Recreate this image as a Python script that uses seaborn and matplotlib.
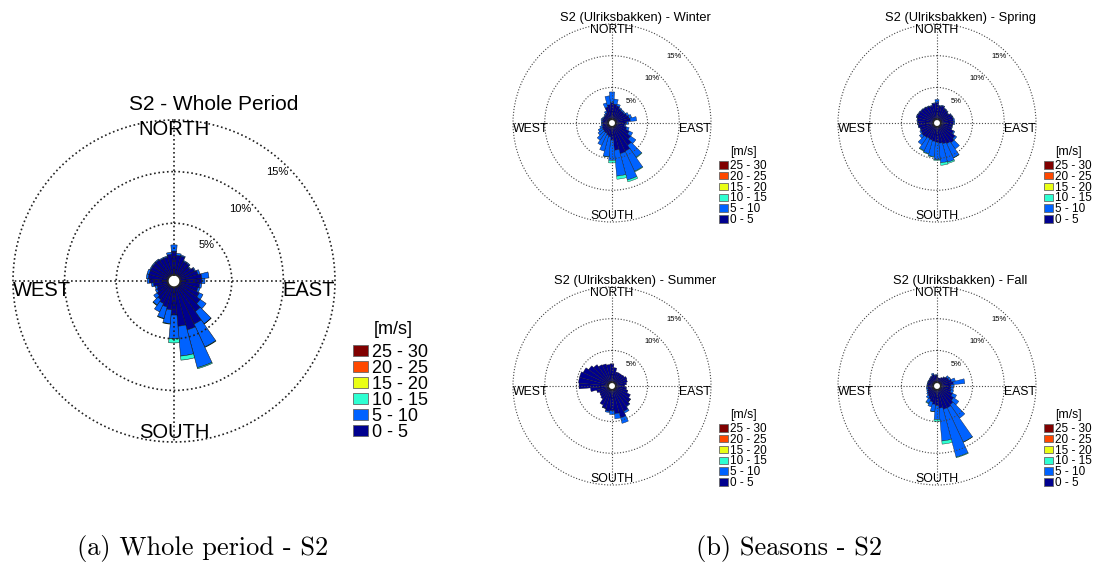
import numpy as np
import matplotlib
matplotlib.use("Agg")
import matplotlib.pyplot as plt
import seaborn as sns
from matplotlib.patches import Patch

# ---------------- data ----------------
directions = np.arange(0, 360, 10)          # sector centres (deg, compass)
speed_bins = ["0 - 5", "5 - 10", "10 - 15", "15 - 20", "20 - 25", "25 - 30"]
bin_colors = ["#00008F", "#0062FF", "#2EFFD2", "#EAFF15", "#FF4800", "#800000"]

# frequencies in % per 10-degree sector, per speed band
whole_0_5 = [2.3, 1.9, 1.9, 1.5, 1.5, 1.3, 1.6, 1.8, 2.1, 2.1, 1.9, 1.8, 2.1, 2.5, 3.0, 4.0, 4.3, 3.8,
             2.7, 2.2, 2.0, 1.8, 1.6, 1.4, 1.2, 1.1, 1.4, 1.8, 1.9, 1.9, 1.9, 1.9, 1.9, 1.8, 1.8, 2.0]
whole_5_10 = [0.6, 0.2, 0.1, 0.1, 0.1, 0.1, 0.1, 0.2, 0.7, 0.3, 0.2, 0.2, 0.4, 0.7, 1.47, 2.45, 3.8, 2.9,
              2.3, 1.35, 1.15, 0.9, 0.65, 0.4, 0.2, 0.2, 0.2, 0.2, 0.2, 0.2, 0.1, 0.1, 0.1, 0.1, 0.1, 0.2]
whole_10_15 = [0, 0, 0, 0, 0, 0, 0, 0, 0, 0, 0, 0, 0, 0, 0.03, 0.05, 0.1, 0.4,
               0.4, 0.05, 0.05, 0, 0.05, 0, 0, 0, 0, 0, 0, 0, 0, 0, 0, 0, 0, 0]

winter_0_5 = [2.6, 2.4, 2.2, 1.9, 1.8, 1.8, 2.0, 2.2, 2.3, 1.7, 1.4, 1.8, 2.4, 3.0, 3.7, 4.3, 4.4, 3.7,
              2.1, 1.6, 1.4, 1.2, 1.2, 1.1, 1.1, 1.0, 0.9, 0.9, 0.9, 1.0, 0.9, 0.9, 1.0, 1.2, 2.0, 2.3]
winter_5_10 = [1.7, 0.8, 0.3, 0.2, 0.2, 0.2, 0.3, 0.4, 1.0, 0.3, 0.2, 0.4, 0.6, 1.0, 2.3, 3.5, 4.3, 4.1,
               3.2, 3.15, 2.6, 2.1, 1.5, 1.0, 0.7, 0.4, 0.2, 0.2, 0.2, 0.2, 0.2, 0.1, 0.2, 0.3, 0.7, 1.4]
winter_10_15 = [0, 0, 0, 0, 0, 0, 0, 0, 0, 0, 0, 0, 0, 0, 0.1, 0.1, 0.3, 0.5,
                0.4, 0.05, 0, 0, 0, 0, 0, 0, 0, 0, 0, 0, 0, 0, 0, 0, 0, 0]

spring_0_5 = [2.6, 2.1, 2.2, 1.9, 1.8, 1.6, 1.9, 2.0, 2.0, 2.0, 1.8, 1.8, 2.3, 2.9, 3.2, 3.0, 2.8, 2.6,
              2.4, 2.3, 2.2, 2.1, 2.2, 2.3, 2.2, 2.1, 2.3, 2.4, 2.5, 2.7, 2.6, 2.5, 2.4, 2.3, 2.2, 2.5]
spring_5_10 = [0.5, 0.1, 0.1, 0.1, 0.1, 0.1, 0.1, 0.1, 0.2, 0.2, 0.1, 0.1, 0.2, 0.3, 1.2, 2.45, 3.0, 3.1,
               2.8, 2.4, 2.2, 2.1, 1.4, 0.5, 0.2, 0.1, 0.1, 0.1, 0.1, 0.1, 0.1, 0.1, 0.1, 0.1, 0.1, 0.1]
spring_10_15 = [0, 0, 0, 0, 0, 0, 0, 0, 0, 0, 0, 0, 0, 0, 0, 0.05, 0.2, 0.4,
                0.1, 0.1, 0.1, 0.1, 0, 0, 0, 0, 0, 0, 0, 0, 0, 0, 0, 0, 0, 0]

summer_0_5 = [2.9, 2.3, 1.7, 1.7, 1.7, 1.8, 2.0, 1.9, 1.7, 1.4, 1.7, 2.0, 2.6, 2.95, 3.3, 3.8, 4.6, 3.8,
              3.3, 3.4, 3.05, 2.7, 1.9, 1.7, 1.6, 1.9, 2.8, 4.6, 4.7, 4.7, 4.4, 3.9, 3.5, 3.1, 3.0, 2.8]
summer_5_10 = [0, 0, 0, 0, 0, 0, 0, 0, 0, 0, 0, 0, 0, 0.05, 0.1, 0.3, 0.9, 0.8,
               0.6, 0.2, 0.05, 0, 0, 0, 0, 0, 0, 0, 0, 0, 0, 0, 0, 0, 0, 0]
summer_10_15 = [0] * 36

fall_0_5 = [1.1, 0.7, 0.7, 0.9, 1.1, 1.4, 1.5, 1.8, 2.0, 1.6, 1.6, 1.7, 2.1, 2.6, 3.0, 3.2, 3.2, 2.9,
            2.5, 2.3, 2.0, 1.7, 1.4, 1.2, 1.0, 0.9, 0.9, 0.9, 0.9, 0.9, 0.9, 0.9, 1.0, 1.1, 1.3, 1.1]
fall_5_10 = [0.1, 0, 0, 0, 0.1, 0.3, 0.3, 0.6, 1.8, 0.5, 0.4, 0.4, 0.7, 1.0, 2.6, 5.95, 7.8, 5.2,
             2.2, 1.15, 0.8, 0.7, 0.4, 0.2, 0.2, 0.2, 0.2, 0.1, 0.1, 0.1, 0.1, 0.1, 0.1, 0.1, 0.2, 0.1]
fall_10_15 = [0, 0, 0, 0, 0, 0, 0, 0, 0, 0, 0, 0, 0, 0, 0, 0.05, 0.1, 0.5,
              0.3, 0.05, 0, 0.1, 0, 0, 0, 0, 0, 0, 0, 0, 0, 0, 0, 0, 0, 0]

ring_values = [5, 10, 15]
ring_labels = ["5%", "10%", "15%"]

# ---------------- style ----------------
sns.set_theme(style="white")
plt.rcParams["font.family"] = ["Liberation Sans", "DejaVu Sans"]
plt.rcParams["text.color"] = "black"
palette = sns.color_palette(bin_colors)

W, H = 1101, 575
fig = plt.figure(figsize=(W / 100, H / 100), dpi=100)


def polar_axes(cx, cy, r):
    return fig.add_axes([(cx - r) / W, 1 - (cy + r) / H, 2 * r / W, 2 * r / H],
                        projection="polar")


def draw_rose(ax, bands, big):
    theta = np.deg2rad(directions)
    width = np.deg2rad(10)
    bottom = np.zeros(len(directions))
    for vals, col in zip(bands, palette):
        vals = np.asarray(vals, float)
        m = vals > 0
        ax.bar(theta[m], vals[m], width=width, bottom=bottom[m], color=col,
               edgecolor="#111111", linewidth=0.35 if big else 0.25, align="center")
        bottom += vals
    ax.set_theta_zero_location("N")
    ax.set_theta_direction(-1)
    ax.set_ylim(0, 15)
    ax.set_rorigin(-0.6)
    ax.set_yticks(ring_values)
    ax.set_yticklabels([])
    ax.set_xticks(np.deg2rad([0, 90, 180, 270]))
    ax.set_xticklabels([])
    ax.grid(True, linestyle=(0, (1, 1.6)), color="#222222" if big else "#444444",
            linewidth=1.2 if big else 0.8)
    ax.set_axisbelow(False)
    for gl in ax.yaxis.get_gridlines() + ax.xaxis.get_gridlines():
        gl.set_clip_on(False)
    for sp in ax.spines.values():
        sp.set_visible(False)
    ax.tick_params(length=0)
    fs_card = 14.5 if big else 8.8
    fs_pct = 8 if big else 5.5
    ax.text(0, 15, "NORTH", ha="center", va="top", fontsize=fs_card)
    ax.text(np.pi, 15, "SOUTH", ha="center", va="bottom", fontsize=fs_card)
    ax.text(np.deg2rad(270), 15, "WEST", ha="left", va="top", fontsize=fs_card)
    ax.text(np.deg2rad(90), 15, "EAST", ha="right", va="top", fontsize=fs_card)
    for rv, lab in zip(ring_values, ring_labels):
        ax.text(np.deg2rad(45), rv, lab, ha="right", va="top", fontsize=fs_pct)


def add_legend(x, y, big):
    handles = [Patch(facecolor=palette[i], edgecolor="#666666", linewidth=0.6)
               for i in range(len(speed_bins) - 1, -1, -1)]
    labels = speed_bins[::-1]
    if big:
        kw = dict(fontsize=13, handlelength=0.83, handleheight=0.55,
                  handletextpad=0.22, labelspacing=-0.06)
    else:
        kw = dict(fontsize=8.5, handlelength=0.76, handleheight=0.6,
                  handletextpad=0.17, labelspacing=-0.1)
    fig.legend(handles, labels, loc="upper left", bbox_to_anchor=(x / W, 1 - y / H),
               frameon=False, borderpad=0, borderaxespad=0, labelcolor="black", **kw)


# whole period
ax_main = polar_axes(174, 281, 161)
draw_rose(ax_main, [whole_0_5, whole_5_10, whole_10_15], True)
fig.text(214 / W, 1 - 104 / H, "S2 - Whole Period", ha="center", va="center", fontsize=15)
fig.text(393 / W, 1 - 330 / H, "[m/s]", ha="center", va="center", fontsize=13)
add_legend(353, 344, True)

seasons = [
    ("Winter", 612, 123, [winter_0_5, winter_5_10, winter_10_15]),
    ("Spring", 937, 123, [spring_0_5, spring_5_10, spring_10_15]),
    ("Summer", 612, 386, [summer_0_5, summer_5_10, summer_10_15]),
    ("Fall", 937, 386, [fall_0_5, fall_5_10, fall_10_15]),
]
for name, cx, cy, bands in seasons:
    ax = polar_axes(cx, cy, 99)
    draw_rose(ax, bands, False)
    fig.text((cx + 23) / W, 1 - (cy - 105) / H, f"S2 (Ulriksbakken) - {name}",
             ha="center", va="center", fontsize=9.3)
    fig.text((cx + 131) / W, 1 - (cy + 29) / H, "[m/s]", ha="center", va="center", fontsize=8.8)
    add_legend(cx + 107, cy + 37, False)

cap_font = ["cmr10", "DejaVu Serif"]
fig.text(203 / W, 1 - 548 / H, "(a) Whole period - S2", ha="center", va="center",
         fontsize=19, family=cap_font)
fig.text(789 / W, 1 - 548 / H, "(b) Seasons - S2", ha="center", va="center",
         fontsize=19, family=cap_font)

fig.savefig("out.png", dpi=100)
